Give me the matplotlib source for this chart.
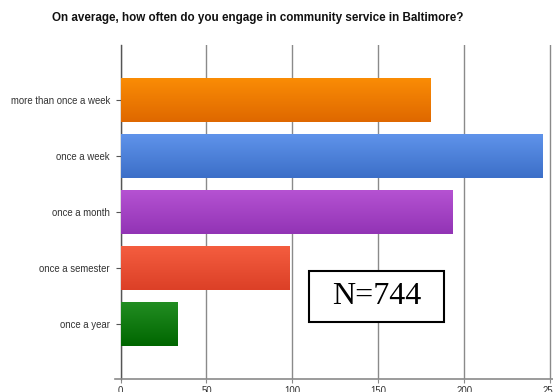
import numpy as np
import matplotlib.pyplot as plt
from matplotlib.patches import Rectangle
from matplotlib.colors import LinearSegmentedColormap

# survey responses
categories = ["more than once a week", "once a week", "once a month",
              "once a semester", "once a year"]
counts = [180, 245, 193, 98, 33]
# (top, bottom) shades for each bar's vertical gradient
shades = [("#fa8c05", "#df6800"),
          ("#5f93ea", "#3c6fc8"),
          ("#b552d2", "#9234b5"),
          ("#f45d3f", "#dc4027"),
          ("#228d22", "#006600")]
xticks = [0, 50, 100, 150, 200, 250]

W, H = 553, 392
fig = plt.figure(figsize=(W / 100, H / 100), dpi=100)
fig.patch.set_facecolor("white")

# axes placed in pixel terms; right side runs past the figure edge
x0, y_top, y_axis = 120.5, 45, 379.3
px_per_unit = 1.72
ax = fig.add_axes([x0 / W, (H - y_axis) / H, (W - x0 + 40) / W, (y_axis - y_top) / H])

ypos = np.arange(len(categories))
bars = ax.barh(ypos, counts, height=0.78, color=[s[1] for s in shades],
               zorder=3, linewidth=0)

# gradient fill on each bar
grad = np.linspace(0, 1, 64).reshape(-1, 1)
for b, (top, bottom) in zip(bars, shades):
    cmap = LinearSegmentedColormap.from_list("g", [top, bottom])
    x, y, w, h = b.get_x(), b.get_y(), b.get_width(), b.get_height()
    ax.imshow(grad, cmap=cmap, aspect="auto", extent=(x, x + w, y + h, y),
              origin="upper", zorder=3.5, interpolation="bilinear")
ax.set_xlim(0, (W - x0 + 40) / px_per_unit)
ax.set_ylim(4.98, -0.98)

ax.set_xticks(xticks)
ax.set_xticklabels([str(t) for t in xticks])
ax.set_yticks(ypos)
ax.set_yticklabels(categories)
ax.grid(axis="x", color="#8a8a8a", linewidth=1.0, zorder=0)
ax.set_axisbelow(True)

for side in ["top", "right"]:
    ax.spines[side].set_visible(False)
ax.spines["left"].set_color("#555555")
ax.spines["left"].set_linewidth(1.0)
ax.spines["bottom"].set_color("#8a8a8a")
ax.spines["bottom"].set_linewidth(1.2)
ax.spines["bottom"].set_bounds(-3, 260)

ax.tick_params(axis="y", length=3.5, width=0.8, color="#555555", pad=4,
               labelsize=6.9, labelcolor="#333333")
ax.tick_params(axis="x", length=3, width=0.8, color="#8a8a8a", pad=2,
               labelsize=6.9, labelcolor="#333333")
for lbl in ax.get_xticklabels() + ax.get_yticklabels():
    lbl.set_family("Liberation Sans")

fig.text(258 / W, 1 - 18.5 / H,
         "On average, how often do you engage in community service in Baltimore?",
         ha="center", va="center", fontsize=8.4, fontweight="bold",
         family="Liberation Sans", color="#111111")

# sample size box
bx0, by0, bx1, by1 = 309, 270.7, 444, 322.3
fig.patches.append(Rectangle((bx0 / W, 1 - by1 / H), (bx1 - bx0) / W, (by1 - by0) / H,
                             transform=fig.transFigure, facecolor="white",
                             edgecolor="black", linewidth=1.5, zorder=5))
fig.text((bx0 + bx1) / 2 / W, 1 - (by0 + by1) / 2 / H, "N=744",
         ha="center", va="center", fontsize=23, family="Liberation Serif",
         color="black", zorder=6)

fig.savefig("out.png", dpi=100)
